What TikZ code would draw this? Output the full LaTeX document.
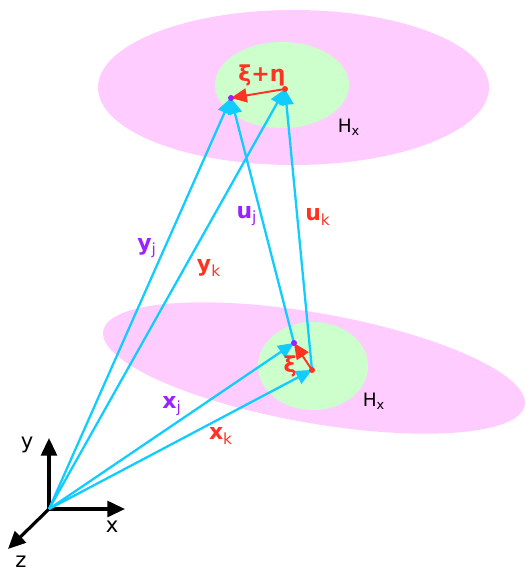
\documentclass[tikz,border=0pt]{standalone}
\usepackage{fontspec}
\setmainfont{DejaVu Sans}
\usetikzlibrary{arrows.meta, positioning, calc}
\definecolor{hpink}{HTML}{FFCCFF}
\definecolor{hgreen}{HTML}{CCFFCC}
\definecolor{vcyan}{HTML}{11CCFF}
\definecolor{vred}{HTML}{FF3322}
\definecolor{lpurple}{HTML}{9922FF}
\tikzset{
    vec/.style={vcyan, line width=1.3pt, -{Triangle[length=9pt,width=8pt]}},
    diff/.style={vred, line width=1.1pt, -{Triangle[length=9pt,width=8pt]}},
    axis/.style={black, line width=1.8pt, -{Triangle[length=10pt,width=9pt]}},
    lbl/.style={font=\fontsize{12.5}{14}\selectfont\bfseries},
    hlbl/.style={font=\fontsize{10.5}{12}\selectfont},
    albl/.style={font=\fontsize{12}{14}\selectfont},
}
\begin{document}
\begin{tikzpicture}[x=0.02cm, y=-0.02cm]
    \useasboundingbox (0,0) rectangle (526,572);
    % Ellipses
    \fill[hpink] (293.5,87.5) ellipse [x radius=195.5, y radius=77.5];
    \fill[hgreen] (282,85) ellipse [x radius=67, y radius=43];
    \fill[hpink, rotate around={-10:(314,368)}] (314,368) ellipse [x radius=214, y radius=55];
    \fill[hgreen] (313,366) ellipse [x radius=55, y radius=44];

    % Points
    \coordinate (O) at (49,509);
    \coordinate (yj) at (231,98);
    \coordinate (yk) at (285,89);
    \coordinate (xj) at (294,343);
    \coordinate (xk) at (312,370);

    % Axes
    \draw[axis] (O) -- (49,438);
    \draw[axis] (O) -- (125,509);
    \draw[axis] (O) -- (8,549);
    \node[albl] (ylab) at (27,445) {y};
    \node[albl] (xlab) at (112,527) {x};
    \node[albl] (zlab) at (21,562) {z};

    % Vectors
    \draw[vec] (O) -- (yj);
    \draw[vec] (O) -- (yk);
    \draw[vec] (O) -- (xj);
    \draw[vec] (O) -- (xk);
    \draw[vec] (xj) -- (yj);
    \draw[vec] (xk) -- (yk);
    \draw[diff] (yk) -- (yj);
    \draw[diff] (xk) -- (xj);

    \fill[lpurple] (yj) circle (3);
    \fill[vred] (yk) circle (3);
    \fill[lpurple] (xj) circle (3);
    \fill[vred] (xk) circle (3);

    % Labels
    \node[lbl, vred] (xieta) at (262,75) {ξ+η};
    \node[lbl, vred] (xi) at (290,366) {ξ};
    \node[lbl, lpurple] (yjlab) at (147,248) {y\textsubscript{\mdseries j}};
    \node[lbl, vred] (yklab) at (209,268) {y\textsubscript{\mdseries k}};
    \node[lbl, lpurple] (ujlab) at (247,216) {u\textsubscript{\mdseries j}};
    \node[lbl, vred] (uklab) at (318,217) {u\textsubscript{\mdseries k}};
    \node[lbl, lpurple] (xjlab) at (172,406) {x\textsubscript{\mdseries j}};
    \node[lbl, vred] (xklab) at (221,436) {x\textsubscript{\mdseries k}};
    \node[hlbl] (Htop) at (349,127) {H\textsubscript{x}};
    \node[hlbl] (Hbot) at (374,401) {H\textsubscript{x}};
\end{tikzpicture}
\end{document}
